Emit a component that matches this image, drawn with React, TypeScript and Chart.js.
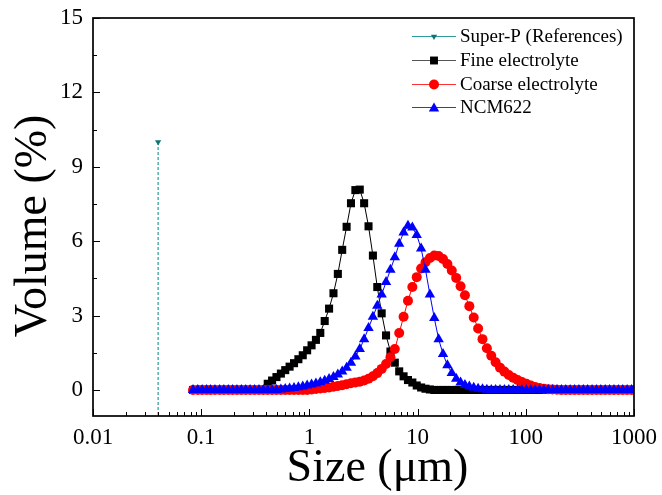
import React, { useEffect, useRef } from 'react';
import { Chart, registerables } from 'chart.js';

Chart.register(...registerables);

// ---- data ----
const sizeBins = [
  0.084, 0.093, 0.102, 0.112, 0.122, 0.134, 0.148, 0.162, 0.178, 0.195,
  0.214, 0.235, 0.258, 0.283, 0.311, 0.342, 0.375, 0.412, 0.452, 0.496,
  0.545, 0.598, 0.656, 0.721, 0.791, 0.868, 0.953, 1.047, 1.149, 1.261,
  1.385, 1.52, 1.669, 1.832, 2.01, 2.207, 2.423, 2.66, 2.92, 3.205,
  3.519, 3.863, 4.24, 4.655, 5.11, 5.61, 6.158, 6.76, 7.421, 8.147,
  8.943, 9.817, 10.78, 11.83, 12.99, 14.26, 15.65, 17.18, 18.86, 20.7,
  22.73, 24.95, 27.39, 30.07, 33.01, 36.24, 39.78, 43.67, 47.94, 52.62,
  57.77, 63.41, 69.61, 76.42, 83.9, 92.09, 101.1, 111.0, 121.8, 133.7,
  146.8, 161.2, 176.8, 194.2, 213.2, 234.1, 256.9, 282.1, 309.6, 339.9,
  373.1, 409.6, 449.7, 493.6, 541.9, 594.9, 653.0, 716.9, 786.9, 863.9,
  948.3,
];

const fineValues = [
  0, 0, 0, 0, 0, 0, 0, 0, 0, 0,
  0, 0, 0, 0, 0, 0, 0, 0.25, 0.38, 0.52,
  0.66, 0.8, 0.94, 1.08, 1.24, 1.4, 1.6, 1.8, 2.02, 2.3,
  2.78, 3.28, 3.9, 4.68, 5.65, 6.58, 7.53, 8.06, 8.08, 7.53,
  6.6, 5.42, 4.15, 3.09, 2.2, 1.55, 1.1, 0.75, 0.55, 0.4,
  0.3, 0.18, 0.1, 0.05, 0.02, 0, 0, 0, 0, 0,
  0, 0, 0, 0, 0, 0, 0, 0, 0, 0,
  0, 0, 0, 0, 0, 0, 0, 0, 0, 0,
  0, 0, 0, 0, 0, 0, 0, 0, 0, 0,
  0, 0, 0, 0, 0, 0, 0, 0, 0, 0,
  0,
];

const coarseValues = [
  0, 0, 0, 0, 0, 0, 0, 0, 0, 0,
  0, 0, 0, 0, 0, 0, 0, 0, 0, 0,
  0, 0, 0, 0, 0, 0, 0, 0.02, 0.04, 0.06,
  0.08, 0.1, 0.13, 0.16, 0.19, 0.23, 0.27, 0.3, 0.33, 0.38,
  0.45, 0.55, 0.68, 0.85, 1.05, 1.32, 1.65, 2.3, 2.95, 3.6,
  4.15, 4.55, 4.9, 5.15, 5.32, 5.42, 5.4, 5.28, 5.08, 4.82,
  4.52, 4.18, 3.82, 3.38, 2.92, 2.48, 2.05, 1.68, 1.38, 1.12,
  0.9, 0.74, 0.6, 0.49, 0.4, 0.32, 0.25, 0.18, 0.12, 0.08,
  0.05, 0.03, 0.02, 0.01, 0, 0, 0, 0, 0, 0,
  0, 0, 0, 0, 0, 0, 0, 0, 0, 0,
  0,
];

const ncmValues = [
  0, 0, 0, 0, 0, 0, 0, 0, 0, 0,
  0, 0, 0, 0, 0, 0, 0, 0, 0, 0,
  0.02, 0.04, 0.06, 0.08, 0.11, 0.14, 0.18, 0.22, 0.26, 0.31,
  0.37, 0.44, 0.52, 0.62, 0.74, 0.9, 1.1, 1.35, 1.65, 2.05,
  2.5, 2.95, 3.4, 3.85, 4.35, 4.85, 5.35, 5.9, 6.35, 6.62,
  6.55, 6.25, 5.7, 4.85, 3.85, 2.9, 2.05, 1.45, 1.0, 0.68,
  0.45, 0.3, 0.2, 0.14, 0.09, 0.05, 0.03, 0.01, 0, 0,
  0, 0, 0, 0, 0, 0, 0, 0, 0, 0,
  0, 0, 0, 0, 0, 0, 0, 0, 0, 0,
  0, 0, 0, 0, 0, 0, 0, 0, 0, 0,
  0,
];

const superPSizes = [0.04, 0.04];
const superPValues = [10, -1.05];

const seriesLabels = ['Super-P (References)', 'Fine electrolyte', 'Coarse electrolyte', 'NCM622'];
const xTitle = 'Size (\u03bcm)';
const yTitle = 'Volume (%)';

const xTickValues = [0.01, 0.1, 1, 10, 100, 1000];
const xTickLabels = ['0.01', '0.1', '1', '10', '100', '1000'];
const yTickValues = [0, 3, 6, 9, 12, 15];
const yTickLabels = ['0', '3', '6', '9', '12', '15'];
const yMinorValues = [1.5, 4.5, 7.5, 10.5, 13.5];
const minorMultipliers = [2, 3, 4, 5, 6, 7, 8, 9];

const FONT = "'Liberation Serif', 'Times New Roman', serif";

const toPoints = (xs: number[], ys: number[]) => xs.map((x, i) => ({ x, y: ys[i] }));

type MarkerKind = 'rect' | 'circle' | 'triangle' | 'triangleDown';

function drawMarker(ctx: CanvasRenderingContext2D, kind: MarkerKind, x: number, y: number, r: number, color: string) {
  ctx.save();
  ctx.fillStyle = color;
  ctx.beginPath();
  if (kind === 'rect') {
    const h = r * Math.SQRT1_2;
    ctx.rect(x - h, y - h, 2 * h, 2 * h);
  } else if (kind === 'circle') {
    ctx.arc(x, y, r, 0, Math.PI * 2);
  } else {
    const rot = kind === 'triangle' ? 0 : Math.PI;
    for (let k = 0; k < 3; k++) {
      const a = rot + (k * 2 * Math.PI) / 3;
      const px = x + Math.sin(a) * r;
      const py = y - Math.cos(a) * r;
      if (k === 0) ctx.moveTo(px, py);
      else ctx.lineTo(px, py);
    }
    ctx.closePath();
  }
  ctx.fill();
  ctx.restore();
}

const legendEntries: { kind: MarkerKind; line: string; fill: string; r: number; dy: number }[] = [
  { kind: 'triangleDown', line: '#2f9c9c', fill: '#0b7676', r: 3.6, dy: 0 },
  { kind: 'rect', line: '#555555', fill: '#000000', r: 5.6, dy: 0 },
  { kind: 'circle', line: '#ff3030', fill: '#ff0000', r: 5, dy: 0 },
  { kind: 'triangle', line: '#3030ff', fill: '#0000ff', r: 6, dy: 1 },
];
const legendRows = [36, 60, 84, 107];

const framePlugin = {
  id: 'frameTicks',
  afterDatasetsDraw(chart: any) {
    const { ctx, chartArea } = chart;
    const xs = chart.scales.x;
    const ys = chart.scales.y;
    ctx.save();
    ctx.strokeStyle = '#000';
    ctx.lineWidth = 1;
    ctx.beginPath();
    xTickValues.forEach((v) => {
      const px = Math.round(xs.getPixelForValue(v)) + 0.5;
      ctx.moveTo(px, chartArea.bottom);
      ctx.lineTo(px, chartArea.bottom - 7);
    });
    xTickValues.slice(0, -1).forEach((d) => {
      minorMultipliers.forEach((m) => {
        const px = Math.round(xs.getPixelForValue(d * m)) + 0.5;
        ctx.moveTo(px, chartArea.bottom);
        ctx.lineTo(px, chartArea.bottom - 4);
      });
    });
    yTickValues.forEach((v) => {
      const py = Math.round(ys.getPixelForValue(v)) + 0.5;
      ctx.moveTo(chartArea.left, py);
      ctx.lineTo(chartArea.left + 7, py);
    });
    yMinorValues.forEach((v) => {
      const py = Math.round(ys.getPixelForValue(v)) + 0.5;
      ctx.moveTo(chartArea.left, py);
      ctx.lineTo(chartArea.left + 4, py);
    });
    ctx.stroke();
    ctx.lineWidth = 1.7;
    ctx.strokeRect(chartArea.left, chartArea.top, chartArea.right - chartArea.left, chartArea.bottom - chartArea.top);
    ctx.restore();
  },
};

const textPlugin = {
  id: 'originText',
  afterDraw(chart: any) {
    const ctx = chart.ctx as CanvasRenderingContext2D;
    const x0 = 412;
    const x1 = 456;
    const xm = 434;
    ctx.save();
    // legend
    ctx.font = `19px ${FONT}`;
    ctx.textBaseline = 'middle';
    ctx.textAlign = 'left';
    chart.data.datasets.forEach((ds: any, i: number) => {
      const e = legendEntries[i];
      const y = legendRows[i];
      ctx.strokeStyle = e.line;
      ctx.lineWidth = 1.2;
      ctx.beginPath();
      ctx.moveTo(x0, y + 0.5);
      ctx.lineTo(x1, y + 0.5);
      ctx.stroke();
      drawMarker(ctx, e.kind, xm, y + 0.5 + e.dy, e.r, e.fill);
      ctx.fillStyle = '#000';
      ctx.fillText(ds.label, 460, y + 1);
    });
    // axis titles
    const ca = chart.chartArea;
    ctx.fillStyle = '#000';
    ctx.font = `46px ${FONT}`;
    ctx.textAlign = 'center';
    ctx.textBaseline = 'middle';
    ctx.fillText(xTitle, (ca.left + ca.right) / 2 + 14, 469);
    ctx.translate(33.5, (ca.top + ca.bottom) / 2 + 9);
    ctx.rotate(-Math.PI / 2);
    ctx.fillText(yTitle, 0, 0);
    ctx.restore();
  },
};

export default function App() {
  const ref = useRef<HTMLCanvasElement>(null);

  useEffect(() => {
    if (!ref.current) return;
    Chart.defaults.font.family = FONT;
    const chart = new Chart(ref.current, {
      type: 'line',
      data: {
        datasets: [
          {
            label: seriesLabels[0],
            data: toPoints(superPSizes, superPValues),
            borderColor: '#45a9a9',
            borderWidth: 1.4,
            borderDash: [3, 2],
            pointStyle: 'triangle',
            pointRotation: 180,
            pointRadius: [3.6, 0],
            pointBackgroundColor: '#0b7676',
            pointBorderColor: '#0b7676',
            pointBorderWidth: 0,
            order: 4,
          },
          {
            label: seriesLabels[1],
            data: toPoints(sizeBins, fineValues),
            borderColor: '#000000',
            borderWidth: 1,
            pointStyle: 'rect',
            pointRadius: 5.7,
            pointBackgroundColor: '#000000',
            pointBorderColor: '#000000',
            pointBorderWidth: 0,
            order: 3,
          },
          {
            label: seriesLabels[2],
            data: toPoints(sizeBins, coarseValues),
            borderColor: '#ff0000',
            borderWidth: 1,
            pointStyle: 'circle',
            pointRadius: 5,
            pointBackgroundColor: '#ff0000',
            pointBorderColor: '#ff0000',
            pointBorderWidth: 0,
            order: 2,
          },
          {
            label: seriesLabels[3],
            data: toPoints(sizeBins, ncmValues),
            borderColor: '#0000ff',
            borderWidth: 1,
            pointStyle: 'triangle',
            pointRadius: 6,
            pointBackgroundColor: '#0000ff',
            pointBorderColor: '#0000ff',
            pointBorderWidth: 0,
            order: 1,
          },
        ],
      },
      options: {
        animation: false,
        responsive: false,
        devicePixelRatio: 1,
        layout: { padding: { top: 18, right: 28, left: 0, bottom: 0 } },
        elements: { line: { tension: 0 } },
        plugins: { legend: { display: false }, tooltip: { enabled: false } },
        scales: {
          x: {
            type: 'logarithmic',
            min: 0.01,
            max: 1000,
            afterBuildTicks: (s: any) => {
              s.ticks = xTickValues.map((v) => ({ value: v, major: true }));
            },
            afterFit: (s: any) => {
              s.height = 79;
              s.paddingLeft = 0;
              s.paddingRight = 0;
            },
            ticks: {
              autoSkip: false,
              maxRotation: 0,
              padding: 8,
              color: '#000',
              font: { family: FONT, size: 23 },
              callback: (v: any) => {
                const i = xTickValues.indexOf(Number(v));
                return i >= 0 ? xTickLabels[i] : '';
              },
            },
            grid: { display: false, drawTicks: false },
            border: { display: false },
          },
          y: {
            type: 'linear',
            min: -1.05,
            max: 15,
            afterBuildTicks: (s: any) => {
              s.ticks = yTickValues.map((v) => ({ value: v }));
            },
            afterFit: (s: any) => {
              s.width = 93;
              s.paddingTop = 0;
              s.paddingBottom = 0;
            },
            ticks: {
              padding: 10,
              color: '#000',
              font: { family: FONT, size: 23 },
              callback: (v: any) => {
                const i = yTickValues.indexOf(Number(v));
                return i >= 0 ? yTickLabels[i] : '';
              },
            },
            grid: { display: false, drawTicks: false },
            border: { display: false },
          },
        },
      } as any,
      plugins: [framePlugin, textPlugin],
    });
    return () => chart.destroy();
  }, []);

  return (
    <div style={{ position: 'absolute', left: 0, top: 0, width: 662, height: 495, background: '#fff' }}>
      <canvas ref={ref} width={662} height={495} style={{ display: 'block', width: 662, height: 495 }} />
    </div>
  );
}
